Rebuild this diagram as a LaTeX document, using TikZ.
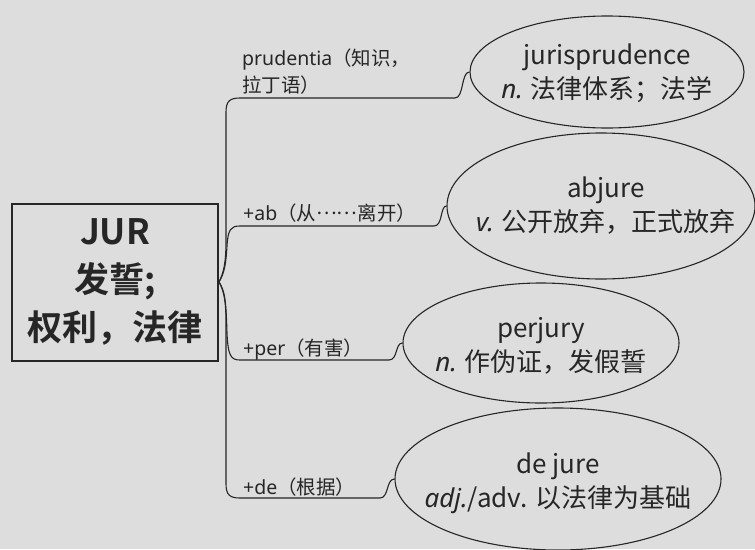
\documentclass[tikz,border=0pt]{standalone}
\usepackage{fontspec}
\setmainfont{Noto Sans CJK SC}[BoldFont={Noto Sans CJK SC Bold}]
\newfontfamily\itf{Noto Sans}
\newfontfamily\lat{Noto Sans}
\usetikzlibrary{shapes.geometric}
\definecolor{bg}{RGB}{221,221,221}
\definecolor{ink}{RGB}{38,38,38}
\begin{document}
\begin{tikzpicture}[x=1pt,y=-1pt,
  rootbox/.style={draw=ink, line width=2pt, minimum width=206pt, minimum height=157pt, inner sep=0pt, align=center, text=ink, font=\fontsize{35}{48}\selectfont\bfseries},
  word/.style={draw=ink, ellipse, line width=1.1pt, inner sep=0pt},
  wordtext/.style={inner sep=0pt, align=center, text=ink, font=\fontsize{26}{34}\selectfont},
  lab/.style={inner sep=1pt, align=left, text=ink, font=\fontsize{19.5}{27}\selectfont},
  conn/.style={draw=ink, line width=1.1pt}]
\fill[bg] (0,0) rectangle (755,549);
\useasboundingbox (0,0) rectangle (755,549);

\node[rootbox] (root) at (115,282) {JUR\\发誓;\\权利，法律};

\node[word, minimum width=274pt, minimum height=112pt] (e1) at (607,72) {};
\node[word, minimum width=308pt, minimum height=146pt] (e2) at (601,206) {};
\node[word, minimum width=276pt, minimum height=120pt] (e3) at (541,343) {};
\node[word, minimum width=326pt, minimum height=142pt] (e4) at (558,479) {};

\node[wordtext] (t1) at (607,73) {jurisprudence\\{\itf\itshape n.} 法律体系；法学};
\node[wordtext] (t2) at (606,206) {abjure\\{\itf\itshape v.} 公开放弃，正式放弃};
\node[wordtext] (t3) at (541,346) {perjury\\{\itf\itshape n.} 作伪证，发假誓};
\node[wordtext] (t4) at (558,483) {de jure\\{\itf\itshape adj.}/adv. 以法律为基础};

\node[lab, anchor=south west] (l1) at (241,96) {{\lat prudentia}（知识，\\拉丁语）};
\node[lab, anchor=west] (l2) at (242,213) {{\lat +ab}（从\raisebox{0.32em}{……}离开）};
\node[lab, anchor=west] (l3) at (242,349) {{\lat +per}（有害）};
\node[lab, anchor=west] (l4) at (242,487) {{\lat +de}（根据）};

\draw[conn] (root.east) .. controls (224,272) and (226,262) .. (226,240) -- (226,112)
  .. controls (226,101) and (230,98) .. (240,98) -- (455,98)
  .. controls (464,98) and (461,72) .. (e1.west);
\draw[conn] (root.east) .. controls (225,272) and (226,262) .. (227,246)
  .. controls (228,229) and (231,226) .. (240,226) -- (434,226)
  .. controls (443,226) and (440,206) .. (e2.west);
\draw[conn] (root.east) .. controls (225,291) and (226,301) .. (227,333)
  .. controls (228,356) and (231,360) .. (240,360) -- (389,360)
  .. controls (398,360) and (395,343) .. (e3.west);
\draw[conn] (root.east) .. controls (224,291) and (226,301) .. (226,323) -- (226,484)
  .. controls (226,495) and (230,498) .. (240,498) -- (380,498)
  .. controls (389,498) and (386,479) .. (e4.west);
\end{tikzpicture}
\end{document}
